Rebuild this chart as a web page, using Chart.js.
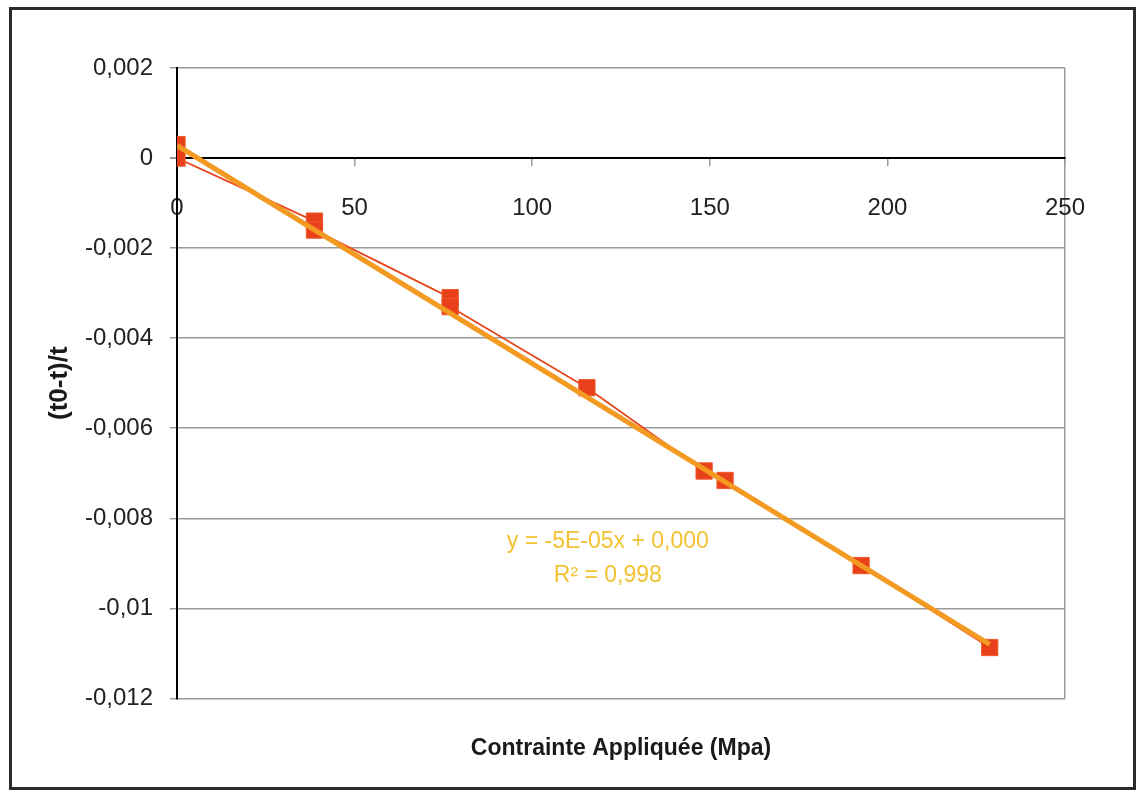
<!DOCTYPE html>
<html>
<head>
<meta charset="utf-8">
<script src="https://cdn.jsdelivr.net/npm/chart.js@4"></script>
<style>
  body { margin: 0; background: #fff; }
  #wrap { position: relative; width: 1144px; height: 794px; }
  #cadre { position: absolute; left: 9px; top: 7px; width: 1127px; height: 783px; box-sizing: border-box; border: 3px solid #2a2a2a; pointer-events: none; }
</style>
</head>
<body>
<div id="wrap">
  <canvas id="graphe"></canvas>
  <div id="cadre"></div>
</div>
<script>
// Mesures (contrainte en Mpa, (t0-t)/t)
const contrainte = [0, 0, 38.7, 38.7, 76.9, 76.9, 115.4, 148.4, 154.3, 192.6, 228.8];
const deformation = [0.0003, 0, -0.0014, -0.0016, -0.0031, -0.0033, -0.0051, -0.00695, -0.00716, -0.00905, -0.01087];

// Courbe de tendance (extrémités)
const tendanceX = [0, 228.8];
const tendanceY = [0.00028, -0.0108];
const equation = ["y = -5E-05x + 0,000", "R² = 0,998"];
const equationPos = { x: 121.3, y: [-0.00852, -0.00927] };

// Graduations
const xTicks = [0, 50, 100, 150, 200, 250];
const yTicks = [0.002, 0, -0.002, -0.004, -0.006, -0.008, -0.01, -0.012];

const police = "'Liberation Sans', Arial, sans-serif";
const grisGrille = "#9a9a9a";

const formatVirgule = (v) => String(Number(v.toFixed(3))).replace(".", ",");

// Texte de l'équation de tendance
const etiquetteTendance = {
  id: "etiquetteTendance",
  afterDatasetsDraw(chart) {
    const { ctx, scales } = chart;
    ctx.save();
    ctx.font = "23px " + police;
    ctx.fillStyle = "#f2c230";
    ctx.textAlign = "center";
    ctx.textBaseline = "middle";
    equation.forEach((ligne, i) => {
      ctx.fillText(ligne, scales.x.getPixelForValue(equationPos.x), scales.y.getPixelForValue(equationPos.y[i]));
    });
    ctx.restore();
  },
};

const ctx = document.getElementById("graphe").getContext("2d");
new Chart(ctx, {
  type: "scatter",
  data: {
    datasets: [
      {
        label: "Tendance",
        data: tendanceX.map((x, i) => ({ x: x, y: tendanceY[i] })),
        showLine: true,
        borderColor: "#f39a22",
        borderWidth: 5,
        pointRadius: 0,
        order: 0,
      },
      {
        label: "Mesures",
        data: contrainte.map((x, i) => ({ x: x, y: deformation[i] })),
        showLine: true,
        borderColor: "#e8461e",
        backgroundColor: "#e8461e",
        borderWidth: 1.8,
        pointStyle: "rect",
        pointRadius: 11.5,
        pointBorderWidth: 1,
        pointBorderColor: "#ee5a2a",
        pointBackgroundColor: "#e8401a",
        order: 1,
      },
    ],
  },
  options: {
    responsive: true,
    maintainAspectRatio: false,
    animation: false,
    layout: { padding: { left: 40, top: 68, right: 79, bottom: 10 } },
    plugins: {
      legend: { display: false },
      tooltip: { enabled: false },
      title: {
        display: true,
        fullSize: false,
        position: "bottom",
        text: "Contrainte Appliquée (Mpa)",
        color: "#1a1a1a",
        font: { family: police, size: 23, weight: "bold" },
        padding: { top: 36, bottom: 22 },
      },
    },
    scales: {
      x: {
        type: "linear",
        position: { y: 0 },
        min: 0,
        max: 250,
        afterBuildTicks: (scale) => { scale.ticks = xTicks.map((v) => ({ value: v })); },
        ticks: {
          color: "#222",
          font: { family: police, size: 24 },
          padding: 29,
          maxRotation: 0,
          callback: (v) => formatVirgule(v),
        },
        grid: {
          color: (c) => (c.tick && c.tick.value === 250 ? grisGrille : "transparent"),
          lineWidth: 1.5,
          tickLength: 7,
          tickColor: grisGrille,
          drawOnChartArea: true,
        },
        border: { color: "#000", width: 2 },
      },
      y: {
        type: "linear",
        min: -0.012,
        max: 0.002,
        afterBuildTicks: (scale) => { scale.ticks = yTicks.map((v) => ({ value: v })); },
        afterFit: (scale) => { scale.width = 137; },
        ticks: {
          color: "#222",
          font: { family: police, size: 24 },
          padding: 17,
          callback: (v) => formatVirgule(v),
        },
        grid: {
          color: (c) => (c.tick && c.tick.value === 0 ? "#000" : grisGrille),
          lineWidth: (c) => (c.tick && c.tick.value === 0 ? 2 : 1.5),
          tickLength: 7,
          tickColor: grisGrille,
        },
        border: { color: "#000", width: 2 },
        title: {
          display: true,
          text: "(t0-t)/t",
          color: "#1a1a1a",
          font: { family: police, size: 26, weight: "bold" },
          padding: 4,
        },
      },
    },
  },
  plugins: [etiquetteTendance],
});
</script>
</body>
</html>
